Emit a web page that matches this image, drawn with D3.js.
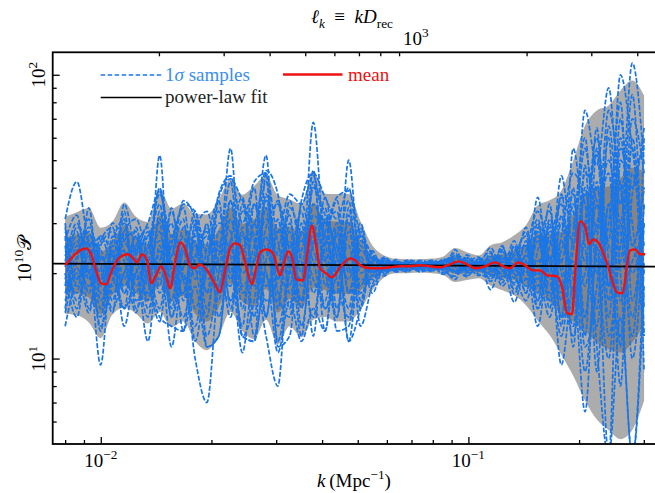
<!DOCTYPE html>
<html><head><meta charset="utf-8">
<script src="https://cdn.jsdelivr.net/npm/d3@7"></script>
<style>body{margin:0;background:#fff}svg{display:block}text{font-family:"Liberation Serif","Times New Roman",serif}</style>
</head><body><svg id="c" width="655" height="493"></svg>
<script>
// ---------------- data ----------------
const D_rec = 13894; // Mpc, top axis: l_k = k * D_rec
const knotK = [0.00800,0.00861,0.00928,0.00999,0.01076,0.01158,0.01247,0.01343,0.01446,0.01557,0.01677,0.01806,0.01944,0.02094,0.02254,0.02428,0.02614,0.02815,0.03031,0.03264,0.03515,0.03785,0.04075,0.04388,0.04725,0.05088,0.05479,0.05900,0.06353,0.06841,0.07367,0.07933,0.08542,0.09198,0.09905,0.1067,0.1149,0.1237,0.1332,0.1434,0.1544,0.1663,0.1790,0.1928,0.2076,0.2235,0.2407,0.2592,0.2791,0.3005];
const outerUpper = [31.6,32.8,33.9,28.9,30.4,35.5,31.6,30.3,39.6,33.8,35.2,32.3,32.2,36.3,42.8,37.8,40.6,44.2,37.6,36.4,35.0,45.9,38.1,38.0,38.0,30.5,25.1,23.1,22.5,22.4,22.4,22.5,22.9,24.5,23.7,23.1,25.1,25.7,27.2,29.5,34.7,36.1,39.1,49.9,66.3,74.9,78.0,88.1,95.5,84.6];
const outerLower = [14.4,14.2,13.4,11.8,14.3,15.1,14.4,13.3,14.6,12.9,13.5,11.5,10.7,12.0,14.6,12.5,11.7,13.7,11.2,13.0,11.9,13.7,14.0,13.5,13.5,14.9,17.4,19.3,20.0,20.0,20.1,20.0,19.7,18.6,18.9,19.2,18.1,17.4,16.7,15.4,13.6,12.1,10.3,8.7,7.1,6.1,5.6,5.2,5.6,7.1];
const innerUpper = [26.6,27.4,27.8,23.8,25.8,29.5,26.6,25.3,31.9,27.5,28.6,25.9,25.3,28.5,33.9,29.8,31.0,34.3,28.9,29.2,27.7,35.4,30.7,30.4,30.4,26.1,22.9,22.1,21.9,21.8,21.8,21.9,22.0,22.9,22.4,22.0,23.1,23.3,24.1,25.1,27.5,27.5,28.0,32.3,38.0,39.9,40.4,43.3,47.0,45.6];
const innerLower = [17.0,17.0,16.4,14.3,16.8,18.1,17.0,15.9,18.1,15.9,16.6,14.4,13.5,15.2,18.4,15.9,15.3,17.6,14.5,16.2,15.1,17.8,17.4,16.9,16.9,17.4,19.1,20.2,20.6,20.6,20.7,20.6,20.5,19.9,20.0,20.1,19.6,19.2,18.9,18.1,17.2,15.9,14.4,13.5,12.5,11.4,10.8,10.5,11.4,13.2];

const sample01 = [28,24,31,17,22,30,19,24,35,18,27,15,22,33,20,28,14,38,19,26,16,42,22,30,17,24,21.5,20.5,21.6,21.0,21.4,20.8,21.7,23.5,20.0,21.8,19.0,23.8,18.2,26,17,30,14,40,12,55,18,70,25,40];
const sample02 = [16,20,14.5,24,17,20,27,15,22,30,16,26,12,20,36,15,30,18,24,32,13,26,34,15,28,18,22.8,21.6,20.6,21.8,20.7,21.9,20.4,19.5,22.8,20.2,23.5,19.0,25,17,28,15,32,11,48,9,35,8,60,15];
const sample03 = [22,30,20,14,27,17,23,29,17,25,34,19,30,14,26,37,19,27,13,21,33,17,25,36,20,28,19.5,22.5,21.2,20.4,21.9,21.2,22.2,21.0,19.4,22.6,20.8,24.8,17.5,22,31,19,24,30,18,35,14,42,10,30];
const sample04 = [25,15,26,21,14.5,33,16,20,28,14,21,31,17,25,16,22,40,14,31,17,24,30,15,23,36,16,24,19.8,22.0,21.3,20.3,21.6,20.9,22.6,21.4,19.6,21.8,18.0,22,28,15,25,35,16,28,60,22,12,38,55];
const sample05 = [19,26,17,27,20,15,29,18,31,21,14,23,28,17,31,20,25,42,17,14,28,21,37,19,14,22,18,21.2,20.3,22.0,21.1,20.3,21.5,20.0,21.6,22.8,18.7,22.5,20.0,16,24,33,18,22,9,26,50,20,4.5,22];
const sample06 = [30,18,23,12.5,25,22,14.5,27,20,33,19,13,25,36,15,25,12,22,36,24,19,46,18,27,22,30,20.5,22.8,21.0,20.2,22.2,21.5,20.1,24.2,20.6,21.2,24.6,20.5,26,19,20,14,27,45,35,15,66,30,85,12];
const sample07 = [14.5,22,28,19,30,26,21,14,25,16,29,21,14,28,23,13,35,24,21,36,22,14,28,33,17,26,23.5,20.2,22.3,20.7,21.0,22.2,21.0,19.0,23.2,20.8,20.0,25.0,16.9,24,33,22,12,28,60,20,30,80,16,35];
const sample08 = [26,32,19,23,16,28,31,22,15,27,23,33,19,23,42,18,22,31,26,15,35,24,20,14,32,20,21.0,19.5,21.9,21.5,20.5,20.6,22.4,22.0,19.6,21.5,22.5,21.2,23.5,27,18,28,22,13,40,11,4.5,50,40,65];
const sample09 = [20,17,34,16,21,18,25,30,39,20,17,28,33,21,18,33,27,16,19,28,15,35,27,21,25,15,22.2,21.9,20.8,21.2,21.6,20.4,21.3,21.8,22.0,19.8,19.5,21.9,21.5,18,26,17,30,19,14,42,12,25,55,9];
const sample10 = [23,28,15,25,28,24,17,25,19,23,31,11.5,21,30,28,12,16,34,11.5,20,26,19,16,29,21,19,19.0,20.8,21.4,22.2,21.8,21.0,20.7,20.6,21.0,21.9,21.2,23.0,19.2,23,22,26,16,35,22,30,45,16,22,28];
const sample11 = [31,42,25,20,18,35,23,17,52,15,25,24,27,24,55,17,23,52,15,30,20,68,23,17,50,21,22.0,22.2,20.5,21.6,20.9,21.8,22.0,23.0,21.8,20.5,22.0,19.8,24.2,20,37,20,44,25,75,48,90,35,110,48];
const sample12 = [13,19,21,9.5,24,13,20,11.5,24,11,20,10,7.0,18,21,10.5,20,12,8.0,23,12,28,12.5,25,11.5,23,17.0,21.0,21.0,20.5,21.2,21.4,19.8,21.2,20.4,22.3,17.5,21.5,15.8,21,13,23,9.5,18,6.5,25,4.5,14,4.5,18];
const sample13 = [21,27,24,13,19,26,28,19,13.5,26,12.5,30,11,12,26,12,11.5,45,11,12,30,12,31,12.5,13,25,20.2,22.0,21.7,21.4,20.6,22.0,21.5,20.3,21.3,20.4,22.0,19.5,20.5,25,16,31,20,12,30,52,16,55,30,12];
const sample14 = [17,23,29,22,15,20,24,27,30,14,24,27,23,16,36,24,35,20,16,34,27,22,15,20,30,13,18.2,21.5,20.5,22.1,21.3,21.7,20.8,22.5,21.9,20.9,19.8,20.3,22.6,17,29,22,37,33,11,18,60,11,45,20];
const sample15 = [27,16,22,27,23,15,20,28,18,34,19,22,29,19,16,27,22,36,23,25,18,40,32,25,19,27,23.0,20.5,21.9,20.9,22.0,20.9,21.9,21.7,20.3,21.8,23.8,18.5,24.8,21,27,18,26,20,45,36,25,22,70,45];
const sample16 = [18,29,26,18,26,31,15,21,40,23,36,31,17,37,43,36,30,46,38,18,36,45,37,31,40,22,21.2,21.7,21.3,21.9,21.1,20.9,21.3,23.0,22.5,21.3,20.6,22.7,21.0,29,19,35,13,55,25,13,35,28,12,60];
const sample17 = [24,21,18,26,29,19,27,16,33,19,21,25,15,26,19,35,18,29,35,21,16,32,26,14,34,17,19.8,20.9,22.1,20.8,21.5,22.1,21.6,20.3,20.9,22.4,21.1,24.2,19.9,23,21,29,17,24,55,28,75,40,20,30];
const sample18 = [15,25,20,19,21,24,22,25,38,27,35,33,24,38,44,30,42,45,28,38,35,44,30,37,39,27,22.4,21.3,20.2,21.0,21.6,21.0,20.6,21.5,22.2,20.6,22.9,20.8,18.5,19,30,16,38,17,20,65,18,60,25,40];
const sample19 = [29,19,27,23,20,28,18,22,26,22,17,29,20,22,14,29,26,14,28,22,19,25,30,23,15,29,20.0,22.4,21.0,20.6,20.8,21.3,22.0,22.0,20.7,22.1,20.3,21.9,23.0,25,16,27,22,38,14,40,26,100,55,25];
const sample20 = [20,14,24,15,24,17,25,19,14,13,12.5,18,11,12,25,12,11.5,20,10.5,16,11.5,15,12.5,28,11.5,15,21.7,20.1,20.9,21.7,20.2,20.7,21.2,21.8,21.1,21.0,22.2,22.0,20.2,22,15,21,14,16,38,22,10,30,14,35];
const samples = [sample01,sample02,sample03,sample04,sample05,sample06,sample07,sample08,sample09,sample10,
                 sample11,sample12,sample13,sample14,sample15,sample16,sample17,sample18,sample19,sample20];

const meanK = [0.00800,0.008353,0.008783,0.009122,0.009410,0.009710,0.010019,0.010338,0.010733,0.011074,0.011498,0.011864,0.012242,0.012552,0.012951,0.013364,0.013703,0.014139,0.014589,0.015054,0.015436,0.015927,0.016434,0.016851,0.017497,0.017941,0.018627,0.019462,0.020335,0.021113,0.021786,0.022480,0.023195,0.023934,0.024541,0.025006,0.025803,0.026456,0.027127,0.028164,0.029427,0.030746,0.031526,0.032325,0.033144,0.033984,0.035508,0.036408,0.037566,0.038517,0.039494,0.041006,0.042574,0.044763,0.047656,0.049171,0.050736,0.054017,0.057506,0.061224,0.065181,0.069393,0.073877,0.078652,0.083735,0.089146,0.093721,0.097946,0.10428,0.11102,0.11819,0.12426,0.12984,0.13651,0.14263,0.14996,0.15668,0.16370,0.17429,0.17983,0.18556,0.19147,0.19510,0.20131,0.20770,0.21297,0.21836,0.22531,0.23838,0.25377,0.26185,0.27531,0.28407,0.29312,0.30245];
const meanP = [21.31,22.74,24.06,24.46,23.30,20.46,18.42,18.27,20.46,22.19,23.11,23.30,22.55,21.83,23.30,22.19,18.42,19.65,21.14,19.49,17.69,21.83,25.68,24.86,21.31,20.80,21.48,20.46,18.57,17.12,20.46,24.46,25.47,25.06,22.55,20.46,18.27,20.80,23.68,24.26,23.49,19.65,21.83,23.87,22.74,19.02,18.87,23.11,29.47,25.06,20.80,19.97,19.33,20.97,22.55,22.19,21.31,20.80,20.80,20.97,21.14,21.14,21.31,21.14,20.97,21.48,22.01,21.66,20.80,21.14,21.83,21.14,20.80,21.83,21.31,20.46,20.46,19.65,19.49,17.83,14.45,14.33,19.97,30.44,29.23,25.26,26.31,25.68,21.66,17.12,16.98,24.06,24.26,23.30,23.30];

const fitK = [0.0074, 0.325];
const fitP = [21.6, 21.1];

const xMajorTicks = [0.01, 0.1];
const xMajorExp = ["−2", "−1"];
const xMinorTicks = [0.008,0.009,0.02,0.03,0.04,0.05,0.06,0.07,0.08,0.09,0.2,0.3];
const yMajorTicks = [10, 100];
const yMajorExp = ["1", "2"];
const yMinorTicks = [6,7,8,9,20,30,40,50,60,70,80,90];
const topMinorTicks = [200,300,400,500,600,700,800,900,2000,3000,4000];
const topLabelTicks = [1000];
const topLabelExp = ["3"];

// ---------------- layout ----------------
const svg = d3.select("#c");
const P = {left:52.7, right:656.6, top:52.3, bottom:444};
const x = d3.scaleLog().domain([0.0074, 0.325]).range([P.left, P.right]);
const y = d3.scaleLog().domain([5, 120]).range([P.bottom, P.top]);
const xTop = d3.scaleLog().domain([0.0074*D_rec, 0.325*D_rec]).range([P.left, P.right]);

svg.append("defs").append("clipPath").attr("id","clip").append("rect")
  .attr("x",P.left).attr("y",P.top).attr("width",P.right-P.left).attr("height",P.bottom-P.top);
const g = svg.append("g").attr("clip-path","url(#clip)");

const idx = d3.range(knotK.length);
const area = (up, lo) => d3.area().curve(d3.curveMonotoneX)
  .x(i => x(knotK[i])).y0(i => y(lo[i])).y1(i => y(up[i]));
g.append("path").datum(idx).attr("d", area(outerUpper, outerLower)).attr("fill","#acacac");
g.append("path").datum(idx).attr("d", area(innerUpper, innerLower)).attr("fill","#858585");

const sLine = arr => d3.line().curve(d3.curveMonotoneX).x(i => x(knotK[i])).y(i => y(arr[i]))(idx);
g.selectAll("path.sample").data(samples).join("path").attr("class","sample")
  .attr("d", s => sLine(s)).attr("fill","none").attr("stroke","#1a76e6")
  .attr("stroke-width",1.7).attr("stroke-dasharray","5,1.8");

g.append("path").datum(d3.range(fitK.length))
  .attr("d", d3.line().x(i => x(fitK[i])).y(i => y(fitP[i])))
  .attr("fill","none").attr("stroke","#000").attr("stroke-width",1.7);

g.append("path").datum(d3.range(meanK.length))
  .attr("d", d3.line().curve(d3.curveMonotoneX).x(i => x(meanK[i])).y(i => y(meanP[i])))
  .attr("fill","none").attr("stroke","#ee1111").attr("stroke-width",2.4).attr("stroke-linejoin","round");

// ---------------- axes ----------------
function ticks(axis, tr, size) {
  const a = svg.append("g").attr("transform", tr).call(axis.tickSize(size).tickSizeOuter(0).tickFormat(""));
  a.select(".domain").remove();
  a.selectAll("line").attr("stroke","#000").attr("stroke-width",1.3);
}
ticks(d3.axisBottom(x).tickValues(xMajorTicks), `translate(0,${P.bottom})`, -7);
ticks(d3.axisBottom(x).tickValues(xMinorTicks), `translate(0,${P.bottom})`, -4);
ticks(d3.axisLeft(y).tickValues(yMajorTicks), `translate(${P.left},0)`, -7);
ticks(d3.axisLeft(y).tickValues(yMinorTicks), `translate(${P.left},0)`, -4);
ticks(d3.axisTop(xTop).tickValues(topMinorTicks), `translate(0,${P.top})`, -4);

svg.append("rect").attr("x",P.left).attr("y",P.top).attr("width",P.right-P.left).attr("height",P.bottom-P.top)
  .attr("fill","none").attr("stroke","#000").attr("stroke-width",1.8);

function rich(sel, parts, size) {
  let shift = 0;
  parts.forEach(p => {
    const target = p.sup ? -size*0.42 : (p.sub ? size*0.25 : 0);
    const ts = sel.append("tspan").attr("dy", target - shift).text(p.t);
    shift = target;
    if (p.sup || p.sub) ts.attr("font-size", size*0.7);
    if (p.it) ts.attr("font-style","italic");
  });
  return sel;
}
const FS = 19;
xMajorTicks.forEach((v,i) => {
  rich(svg.append("text").attr("x", x(v)).attr("y", 467).attr("text-anchor","middle").attr("font-size",FS),
    [{t:"10"},{t:xMajorExp[i],sup:true}], FS);
});
topLabelTicks.forEach((v,i) => {
  rich(svg.append("text").attr("x", xTop(v)).attr("y", 45).attr("text-anchor","middle").attr("font-size",FS),
    [{t:"10"},{t:topLabelExp[i],sup:true}], FS);
});
yMajorTicks.forEach((v,i) => {
  rich(svg.append("text").attr("transform",`translate(45,${y(v)}) rotate(-90)`).attr("text-anchor","middle").attr("font-size",FS),
    [{t:"10"},{t:yMajorExp[i],sup:true}], FS);
});
rich(svg.append("text").attr("x",354).attr("y",487).attr("text-anchor","middle").attr("font-size",FS),
  [{t:"k",it:true},{t:"\u2009(Mpc"},{t:"−1",sup:true},{t:")"}], FS);
rich(svg.append("text").attr("x",352).attr("y",23).attr("text-anchor","middle").attr("font-size",FS),
  [{t:"ℓ",it:true},{t:"k",sub:true,it:true},{t:"\u2002≡\u2002"},{t:"kD",it:true},{t:"rec",sub:true}], FS);
rich(svg.append("text").attr("transform","translate(31,259) rotate(-90)").attr("text-anchor","middle").attr("font-size",FS),
  [{t:"10"},{t:"10",sup:true},{t:"𝒫"}], FS);

// ---------------- legend ----------------
const lg = svg.append("g");
lg.append("line").attr("x1",100.7).attr("x2",161.7).attr("y1",75).attr("y2",75)
  .attr("stroke","#1a76e6").attr("stroke-width",1.3).attr("stroke-dasharray","4.5,2.5");
rich(lg.append("text").attr("x",165).attr("y",80.5).attr("font-size",FS).attr("fill","#3a8ef0"),
  [{t:"1"},{t:"σ",it:true},{t:" samples"}], FS);
lg.append("line").attr("x1",283).attr("x2",342.5).attr("y1",74.5).attr("y2",74.5)
  .attr("stroke","#ee1111").attr("stroke-width",2.6);
lg.append("text").attr("x",348).attr("y",80.5).attr("font-size",FS).attr("fill","#ee1111").text("mean");
lg.append("line").attr("x1",100.7).attr("x2",161.7).attr("y1",97.5).attr("y2",97.5)
  .attr("stroke","#000").attr("stroke-width",1.7);
lg.append("text").attr("x",165).attr("y",103).attr("font-size",FS).attr("fill","#222").text("power-law fit");
</script></body></html>
